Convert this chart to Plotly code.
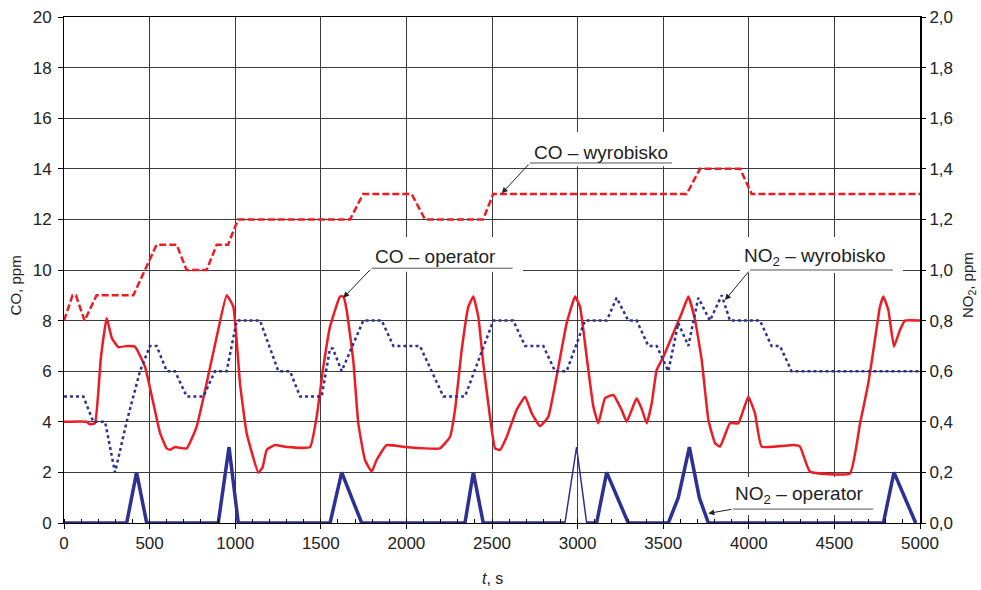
import plotly.graph_objects as go

# ---- data (time in s) ----
co_wyr_t = [0, 50, 70, 120, 190, 405, 541, 658, 716, 833, 892, 958, 1017, 1671, 1747,
            2031, 2109, 2448, 2507, 3637, 3715, 3949, 4017, 5000]
co_wyr_v = [8, 9, 9, 8, 9, 9, 11, 11, 10, 10, 11, 11, 12, 12, 13,
            13, 12, 12, 13, 13, 14, 14, 13, 13]

co_op_t = [0, 132, 150, 181, 215, 249, 280, 317, 370, 415, 473, 522, 561, 600, 620, 650, 717,
           775, 833, 892, 950, 989, 1028, 1067, 1135, 1160, 1184, 1232, 1300, 1437, 1476, 1515,
           1554, 1612, 1632, 1651, 1690, 1719, 1758, 1797, 1826, 1884, 2000, 2196, 2255, 2284,
           2323, 2362, 2391, 2420, 2449, 2488, 2518, 2547, 2586, 2644, 2693, 2732, 2780, 2829,
           2877, 2936, 2985, 3014, 3053, 3092, 3121, 3160, 3209, 3257, 3287, 3316, 3345, 3375,
           3404, 3433, 3462, 3501, 3559, 3608, 3647, 3686, 3725, 3764, 3803, 3832, 3890, 3939,
           3997, 4036, 4075, 4260, 4299, 4357, 4591, 4650, 4698, 4728, 4766, 4786, 4815, 4848,
           4883, 4912, 5000]
co_op_v = [4, 4, 3.9, 3.95, 6.5, 8.1, 7.3, 6.95, 7.0, 6.97, 6.18, 4.73, 3.56, 2.95, 2.9, 3.0, 2.95,
           3.81, 5.52, 7.36, 9.0, 8.55, 5.52, 3.55, 1.99, 2.2, 2.89, 3.08, 3.0, 3.0, 4.2, 6.18,
           7.76, 8.95, 8.95, 8.42, 6.4, 3.94, 2.49, 2.03, 2.49, 3.08, 3.0, 2.95, 3.41, 4.47,
           6.84, 8.55, 8.95, 8.15, 6.31, 4.2, 2.95, 2.89, 3.41, 4.47, 4.99, 4.34, 3.83, 4.2,
           5.78, 7.89, 8.95, 8.55, 6.57, 4.6, 3.94, 4.93, 5.06, 4.47, 4.0, 4.47, 4.93, 4.5,
           3.94, 4.73, 6.05, 6.57, 7.5, 8.29, 8.95, 8.02, 6.44, 4.07, 3.15, 3.02, 3.94, 3.94,
           4.99, 4.34, 3.02, 3.08, 3.02, 2.03, 1.96, 3.94, 5.52, 6.84, 8.55, 8.95, 8.42, 6.97,
           7.63, 8.0, 8.0]

no2_wyr_t = [0, 113, 171, 240, 298, 366, 444, 502, 541, 600, 648, 717, 814, 882, 950, 1009,
             1145, 1252, 1320, 1379, 1505, 1554, 1570, 1622, 1748, 1856, 1924, 2079, 2216, 2342,
             2508, 2624, 2693, 2800, 2868, 2936, 3043, 3170, 3228, 3296, 3345, 3413, 3462, 3530,
             3588, 3647, 3705, 3773, 3842, 3890, 4065, 4133, 4182, 4250, 5000]
no2_wyr_v = [0.5, 0.5, 0.4, 0.4, 0.2, 0.4, 0.6, 0.7, 0.7, 0.6, 0.6, 0.5, 0.5, 0.6, 0.6, 0.8,
             0.8, 0.6, 0.6, 0.5, 0.5, 0.69, 0.69, 0.6, 0.8, 0.8, 0.7, 0.7, 0.5, 0.5,
             0.8, 0.8, 0.7, 0.7, 0.6, 0.6, 0.8, 0.8, 0.89, 0.8, 0.8, 0.7, 0.7, 0.6,
             0.79, 0.7, 0.89, 0.8, 0.9, 0.8, 0.8, 0.7, 0.7, 0.6, 0.6]

no2_op_t = [0, 366, 424, 483, 901, 964, 1018, 1554, 1622, 1739, 2342, 2391, 2449, 2926, None,
            3053, 3111, 3170, 3296, 3530, 3588, 3653, 3711, 3764, 4786, 4848, 4975]
no2_op_v = [0, 0, 0.2, 0, 0, 0.3, 0, 0, 0.2, 0, 0, 0.2, 0, 0, None,
            0, 0, 0.2, 0, 0, 0.1, 0.3, 0.1, 0, 0, 0.2, 0]

no2_op_thin_t = [2926, 2994, 3053]
no2_op_thin_v = [0, 0.3, 0]

x_ticks = [0, 500, 1000, 1500, 2000, 2500, 3000, 3500, 4000, 4500, 5000]
x_tick_text = [str(v) for v in x_ticks]
y_ticks = [0, 2, 4, 6, 8, 10, 12, 14, 16, 18, 20]
y2_ticks = [0, 0.2, 0.4, 0.6, 0.8, 1.0, 1.2, 1.4, 1.6, 1.8, 2.0]
y2_tick_text = ["0,0", "0,2", "0,4", "0,6", "0,8", "1,0", "1,2", "1,4", "1,6", "1,8", "2,0"]

RED = "rgb(237,28,36)"
BLUE = "rgb(46,49,146)"
FONT = "Liberation Sans, Arial, sans-serif"
TXT = "#222222"

fig = go.Figure()
fig.add_trace(go.Scatter(x=co_wyr_t, y=co_wyr_v, mode="lines", yaxis="y",
                         line=dict(color=RED, width=2.5, dash="7px,3px"), showlegend=False))
fig.add_trace(go.Scatter(x=co_op_t, y=co_op_v, mode="lines", yaxis="y",
                         line=dict(color=RED, width=2.5, shape="spline", smoothing=0.35),
                         showlegend=False))
fig.add_trace(go.Scatter(x=no2_wyr_t, y=no2_wyr_v, mode="lines", yaxis="y2",
                         line=dict(color=BLUE, width=2.5, dash="3px,3px"), showlegend=False))
fig.add_trace(go.Scatter(x=no2_op_t, y=no2_op_v, mode="lines", yaxis="y2", connectgaps=False,
                         line=dict(color=BLUE, width=3.5), showlegend=False))
fig.add_trace(go.Scatter(x=no2_op_thin_t, y=no2_op_thin_v, mode="lines", yaxis="y2",
                         line=dict(color=BLUE, width=1.5), showlegend=False))

# callouts: (text, text_x, text_y, line_x0, line_x1, line_y, tip_x, tip_y, box)
callouts = [
    ("CO – wyrobisko", 3137, 14.66, 2722, 3551, 14.23, 2557, 13.03, (2704, 3569, 14.1, 15.45)),
    ("CO – operator", 2172, 10.55, 1797, 2621, 10.07, 1631, 8.9, (1729, 2681, 9.93, 11.3)),
    ("NO<sub>2</sub> – wyrobisko", 4387, 10.53, 4007, 4842, 10.0, 3861, 8.81, (3949, 4901, 9.88, 11.3)),
    ("NO<sub>2</sub> – operator", 4293, 1.1, 3908, 4726, 0.55, 3763, 0.38, (3879, 4755, 0.32, 1.82)),
]
for text, tx, ty, lx0, lx1, ly, ax_, ay_, box in callouts:
    fig.add_shape(type="rect", xref="x", yref="y", x0=box[0], x1=box[1], y0=box[2], y1=box[3],
                  fillcolor="white", line=dict(width=0), layer="between")
    fig.add_shape(type="line", xref="x", yref="y", x0=lx0, x1=lx1, y0=ly, y1=ly,
                  line=dict(color="#555555", width=1), layer="above")
    fig.add_annotation(x=tx, y=ty, xref="x", yref="y", text=text, showarrow=False,
                       xanchor="center", yanchor="middle",
                       font=dict(family=FONT, size=19, color=TXT))
    fig.add_annotation(x=ax_, y=ay_, xref="x", yref="y", ax=lx0, ay=ly, axref="x", ayref="y",
                       text="", showarrow=True, arrowhead=2, arrowsize=1.2, arrowwidth=1,
                       arrowcolor=TXT)

# axis titles placed as annotations
fig.add_annotation(x=-0.057, y=0.47, xref="paper", yref="paper", text="CO, ppm",
                   xanchor="center", yanchor="middle",
                   textangle=-90, showarrow=False, font=dict(family=FONT, size=15, color=TXT))
fig.add_annotation(x=1.056, y=0.47, xref="paper", yref="paper", text="NO<sub>2</sub>, ppm",
                   xanchor="center", yanchor="middle",
                   textangle=-90, showarrow=False, font=dict(family=FONT, size=15, color=TXT))
fig.add_annotation(x=0.5, y=-0.109, xref="paper", yref="paper", text="<i>t</i>, s",
                   xanchor="center", yanchor="middle",
                   showarrow=False, font=dict(family=FONT, size=16, color=TXT))

fig.update_layout(
    width=981, height=590,
    margin=dict(l=64, r=61, t=17, b=67, autoexpand=False),
    plot_bgcolor="white", paper_bgcolor="white",
    font=dict(family=FONT, size=17, color=TXT),
    xaxis=dict(range=[0, 5000], tickvals=x_ticks, ticktext=x_tick_text, automargin=False,
               ticklabeloverflow="allow",
               showgrid=True, gridcolor="#3c3c3c", gridwidth=1,
               showline=True, linecolor="black", linewidth=1, mirror=True,
               ticks="outside", ticklen=5, tickcolor="black",
               minor=dict(dtick=100, ticks="inside", ticklen=4, tickcolor="black", showgrid=False),
               zeroline=False),
    yaxis=dict(range=[0, 20], tickvals=y_ticks, automargin=False, ticklabeloverflow="allow",
               ticklabelstandoff=3,
               showgrid=True, gridcolor="#3c3c3c", gridwidth=1,
               showline=True, linecolor="black", linewidth=1,
               ticks="outside", ticklen=5, tickcolor="black", zeroline=False),
    yaxis2=dict(range=[0, 2], overlaying="y", side="right", tickvals=y2_ticks,
                ticktext=y2_tick_text, showgrid=False, automargin=False, ticklabeloverflow="allow",
                showline=True, linecolor="black", linewidth=2,
                ticks="outside", ticklen=4, tickcolor="black", zeroline=False),
)

# remove the default page margin so the figure fills the 981x590 window exactly
fig.write_html("out.html", config={"displayModeBar": False},
               post_script="document.body.style.margin='0px';document.body.style.overflow='hidden';")
